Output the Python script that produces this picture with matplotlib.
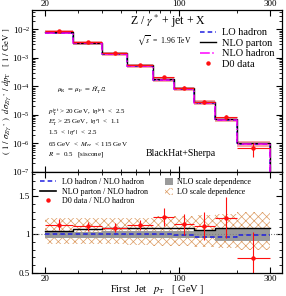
import numpy as np
import matplotlib.pyplot as plt
from matplotlib.lines import Line2D
from matplotlib.patches import Patch
from matplotlib.ticker import FixedLocator, NullFormatter, MultipleLocator, LogLocator

plt.rcParams['font.family'] = ['Liberation Serif', 'DejaVu Serif']
plt.rcParams['mathtext.fontset'] = 'stix'
plt.rcParams['hatch.linewidth'] = 0.5

# bins of first jet pT (GeV)
edges = [20, 28, 40, 54, 73, 95, 120, 154, 200, 300]
# NLO hadron level cross section (1/GeV)
nlo_had = [7.6e-3, 3.2e-3, 1.35e-3, 5.0e-4, 1.7e-4, 7.9e-5, 2.6e-5, 6.7e-6, 9.7e-7]
# ratios to NLO hadron
lo_ratio = [1.01, 1.01, 1.01, 1.01, 1.00, 0.99, 0.97, 0.97, 0.99]
parton_ratio = [1.04, 1.07, 1.09, 1.08, 1.08, 1.09, 1.06, 1.08, 1.08]
data_ratio = [1.13, 1.11, 1.09, 1.13, 1.23, 1.135, 1.11, 1.22, 0.69]
data_err = [0.07, 0.06, 0.055, 0.065, 0.12, 0.14, 0.18, 0.27, 0.34]
# scale bands
nlo_up = [1.03, 1.03, 1.04, 1.05, 1.05, 1.05, 1.06, 1.08, 1.08]
nlo_dn = [0.95, 0.95, 0.95, 0.95, 0.95, 0.95, 0.95, 0.92, 0.91]
lo_up = [1.21, 1.21, 1.22, 1.22, 1.24, 1.24, 1.25, 1.27, 1.30]
lo_dn = [0.87, 0.87, 0.87, 0.86, 0.85, 0.85, 0.84, 0.82, 0.80]

edges = np.array(edges, dtype=float)
nlo_had = np.array(nlo_had)
centers = np.sqrt(edges[:-1] * edges[1:])
xerr = [centers - edges[:-1], edges[1:] - centers]


def steps(vals, drop=None):
    x = np.repeat(edges, 2)[1:-1]
    y = np.repeat(vals, 2)
    if drop is not None:
        x = np.append(x, edges[-1])
        y = np.append(y, drop)
    return x, y


fig = plt.figure(figsize=(2.86, 2.96), dpi=100)
ax1 = fig.add_axes([0.112, 0.419, 0.874, 0.547])
ax2 = fig.add_axes([0.112, 0.079, 0.874, 0.340])

blue = '#1f1fe0'
mag = '#ff00ff'
red = '#ff1010'
hcol = '#dc9a60'

# ---- top panel
x, y = steps(nlo_had)
ax1.fill_between(x, np.repeat(nlo_had * lo_dn, 2), np.repeat(nlo_had * lo_up, 2),
                 color='#f5a8a8', lw=0)
ax1.plot(*steps(nlo_had * lo_ratio, 1e-12), color=blue, ls='--', lw=1.1, dashes=(3, 2))
ax1.plot(*steps(nlo_had * parton_ratio, 1e-12), color='black', lw=1.0)
ax1.plot(*steps(nlo_had, 1e-12), color=mag, ls='-.', lw=1.1)
data = nlo_had * np.array(data_ratio)
ax1.errorbar(centers, data, xerr=xerr, yerr=nlo_had * np.array(data_err),
             fmt='o', ms=2.2, color=red, lw=0.8, capsize=0)

ax1.set_xscale('log')
ax1.set_yscale('log')
ax1.set_xlim(17.2, 345)
ax1.set_ylim(1e-7, 0.047)

ax1.set_ylabel(r'$(\ 1\ /\ \sigma_{Z/\gamma^*}\ )\ \ d\sigma_{Z/\gamma^*}\ /\ dp_{\rm T}\ \ \ [\ 1\ /\ {\rm GeV}\ ]$',
               fontsize=6.3)
ax1.yaxis.set_label_coords(-0.078, 0.5)

ax1.text(0.39, 0.905, r'Z / $\gamma^*$ + jet + X', transform=ax1.transAxes, fontsize=8.5)
ax1.text(0.42, 0.80, r'$\sqrt{s}$  =  1.96 TeV', transform=ax1.transAxes, fontsize=5.5)
ax1.text(0.10, 0.495, r'$\mu_{\rm R}\ =\ \mu_{\rm F}\ =\ \hat{H}_{\rm T}^{\prime}/2$',
         transform=ax1.transAxes, fontsize=5)
cuts = [r'$p_{\rm T}^{\rm jet}$ > 20 GeV,  $|\eta^{\rm jet}|$  <  2.5',
        r'$E_{\rm T}^{e}$ > 25 GeV,  $|\eta^{e}|$  <  1.1',
        r'1.5  <  $|\eta^{e}|$  <  2.5',
        r'65 GeV  <  $M_{ee}$  < 115 GeV',
        r'$R$  =  0.5   [siscone]']
for i, s in enumerate(cuts):
    ax1.text(0.065, 0.37 - i * 0.066, s, transform=ax1.transAxes, fontsize=5, va='center')
ax1.text(0.455, 0.10, 'BlackHat+Sherpa', transform=ax1.transAxes, fontsize=7)

h1 = [Line2D([], [], color=blue, ls='--', lw=1.1, dashes=(3, 2)),
      Line2D([], [], color='black', lw=1.0),
      Line2D([], [], color=mag, ls='-.', lw=1.1),
      Line2D([], [], color=red, marker='o', ms=2.2, ls='none')]
ax1.legend(h1, ['LO hadron', 'NLO parton', 'NLO hadron', 'D0 data'], loc='upper left',
           bbox_to_anchor=(0.67, 0.89), frameon=False, fontsize=7.5, handlelength=1.6,
           handletextpad=0.6, labelspacing=0.12, borderpad=0, borderaxespad=0)

# ---- ratio panel
ax2.axhline(1, color='gray', ls=':', lw=0.8)
ax2.fill_between(np.repeat(edges, 2)[1:-1], np.repeat(lo_dn, 2), np.repeat(lo_up, 2),
                 facecolor='none', edgecolor=hcol, hatch='xxxx', lw=0)
ax2.fill_between(np.repeat(edges, 2)[1:-1], np.repeat(nlo_dn, 2), np.repeat(nlo_up, 2),
                 color='#9a9a9a', lw=0)
ax2.plot(*steps(np.array(parton_ratio)), color='black', lw=1.0)
ax2.plot(*steps(np.array(lo_ratio)), color=blue, ls='--', lw=1.1, dashes=(3, 2))
ax2.errorbar(centers, data_ratio, xerr=xerr, yerr=data_err, fmt='o', ms=2.2,
             color=red, lw=0.8, capsize=0)
ax2.set_xscale('log')
ax2.set_xlim(17.2, 345)
ax2.set_ylim(0.5, 1.82)
ax2.set_xlabel(r'First  Jet   $p_{\rm T}$   [ GeV ]', fontsize=7.5, labelpad=0)

h2 = [Line2D([], [], color=blue, ls='--', lw=1.1, dashes=(3, 2)),
      Line2D([], [], color='black', lw=1.2),
      Line2D([], [], color=red, marker='o', ms=2.2, ls='none')]
leg = ax2.legend(h2, ['LO hadron / NLO hadron', 'NLO parton / NLO hadron', 'D0 data / NLO hadron'],
                 loc='upper left', bbox_to_anchor=(0.03, 0.94), frameon=False, fontsize=5.8,
                 handlelength=2.0, handletextpad=0.8, labelspacing=0.2, borderpad=0,
                 borderaxespad=0)
ax2.add_artist(leg)
h3 = [Patch(facecolor='#9a9a9a', edgecolor='none'),
      Patch(facecolor='none', edgecolor=hcol, hatch='xxxx', lw=0)]
ax2.legend(h3, ['NLO scale dependence', 'LO scale dependence'], loc='upper left',
           bbox_to_anchor=(0.53, 0.94), frameon=False, fontsize=5.8, handlelength=1.0,
           handleheight=1.0, handletextpad=0.6, labelspacing=0.2, borderpad=0, borderaxespad=0)

for ax in (ax1, ax2):
    ax.xaxis.set_major_locator(FixedLocator([20, 100, 300]))
    ax.xaxis.set_minor_locator(FixedLocator([30, 40, 50, 60, 70, 80, 90, 200]))
    ax.xaxis.set_minor_formatter(NullFormatter())
    ax.tick_params(which='both', direction='in', top=True, right=True, labelsize=6.5, pad=1.5)
    ax.tick_params(which='major', length=4, width=0.8)
    ax.tick_params(which='minor', length=2, width=0.6)
    for s in ax.spines.values():
        s.set_linewidth(0.9)

ax1.xaxis.set_major_formatter(plt.FuncFormatter(lambda v, p: '%d' % v))
ax1.tick_params(axis='x', labelbottom=False, labeltop=True)
ax1.yaxis.set_major_locator(LogLocator(base=10, numticks=10))
ax1.yaxis.set_minor_locator(LogLocator(base=10, subs=np.arange(2, 10), numticks=10))
ax1.yaxis.set_minor_formatter(NullFormatter())

ax2.xaxis.set_major_formatter(plt.FuncFormatter(lambda v, p: '%d' % v))
ax2.yaxis.set_major_locator(FixedLocator([0.5, 1, 1.5]))
ax2.yaxis.set_major_formatter(plt.FuncFormatter(lambda v, p: '%g' % v))
ax2.yaxis.set_minor_locator(MultipleLocator(0.1))

fig.savefig('out.png', dpi=100)
